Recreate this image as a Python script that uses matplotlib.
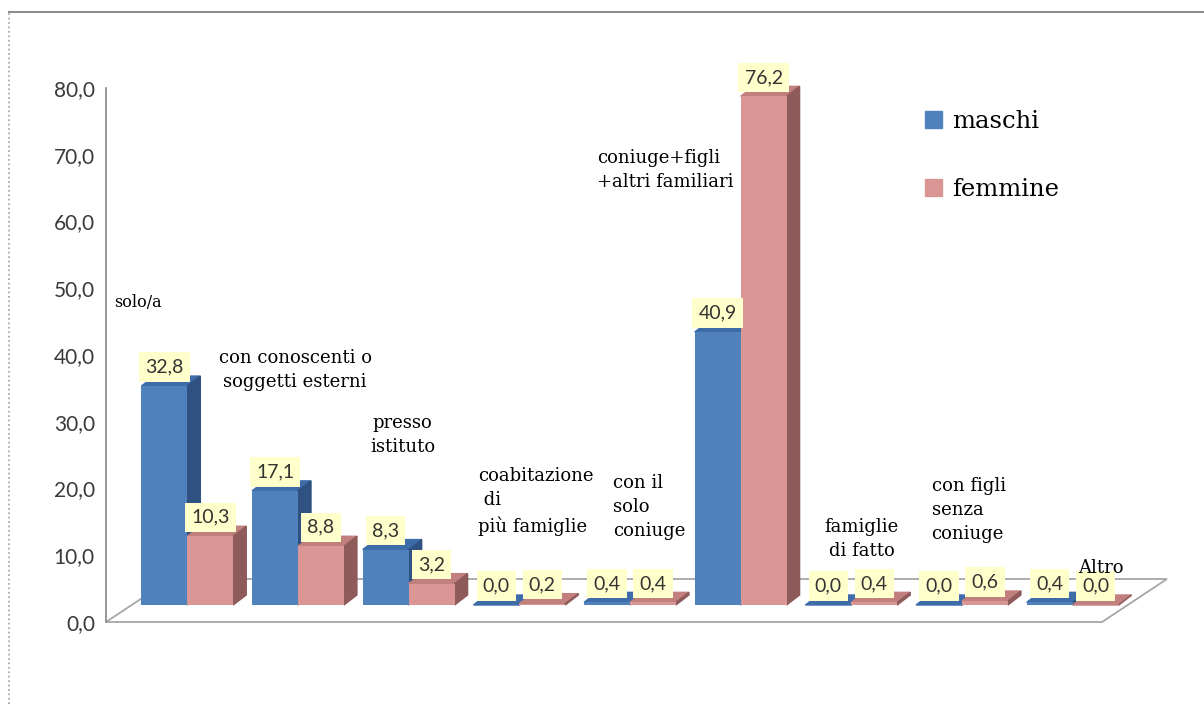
import numpy as np
import matplotlib
matplotlib.use("Agg")
from matplotlib import pyplot as plt
from matplotlib.patches import Patch
from matplotlib.lines import Line2D

# dati
categorie = ["solo/a", "con conoscenti o\nsoggetti esterni", "presso\nistituto",
             "coabitazione\n di\npiù famiglie", "con il\nsolo\nconiuge",
             "coniuge+figli\n+altri familiari", "famiglie\ndi fatto",
             "con figli\nsenza\nconiuge", "Altro"]
maschi = [32.8, 17.1, 8.3, 0.0, 0.4, 40.9, 0.0, 0.0, 0.4]
femmine = [10.3, 8.8, 3.2, 0.2, 0.4, 76.2, 0.4, 0.6, 0.0]
serie = ["maschi", "femmine"]
tick_valori = np.arange(0, 81, 10)

# posizione delle etichette di categoria (x, y in unita' del grafico, allineamento)
pos_etichette = [(-0.43, 47.9, 'left'), (1.21, 37.8, 'center'), (2.18, 28.0, 'center'),
                 (2.86, 18.1, 'left'), (4.08, 17.2, 'left'), (3.94, 67.7, 'left'),
                 (6.33, 12.4, 'center'), (6.96, 16.8, 'left'), (8.28, 8.1, 'left')]

# colori: fronte, cima, fianco
col_maschi = ("#4F81BD", "#3D6CA8", "#2F5283")
col_femmine = ("#D99694", "#C17F7D", "#8E5B5A")

W, H = 1204, 704
fig = plt.figure(figsize=(W / 100, H / 100), dpi=100)
ax = fig.add_axes([106 / W, 82 / H, 996 / W, 534 / H])
ax.set_xlim(-0.5, 8.5)
ax.set_ylim(0, 80)

# conversione pixel -> unita' del grafico per l'effetto 3D
kx = 9 / 996
ky = 80 / 534
sx, sy = 26 * kx, 17 * ky      # barre a meta' profondita' del pavimento
dx, dy = 13 * kx, 10 * ky      # spessore delle barre
fx, fy = 65 * kx, 43 * ky      # profondita' del pavimento

# pavimento
ax.fill([-0.5, 8.5, 8.5 + fx, -0.5 + fx], [0, 0, fy, fy], facecolor="white",
        edgecolor="#A6A6A6", lw=1.3, clip_on=False, zorder=1)

x = np.arange(len(categorie))
w = 0.415
for k, (vals, cols) in enumerate([(maschi, col_maschi), (femmine, col_femmine)]):
    left = x - w + k * w
    ax.bar(left + sx, vals, width=w, bottom=sy, align="edge", color=cols[0],
           zorder=3 + 2 * k, clip_on=False)
    for xl, v in zip(left, vals):
        x0 = xl + sx
        top = sy + v
        ax.fill([x0, x0 + w, x0 + w + dx, x0 + dx], [top, top, top + dy, top + dy],
                color=cols[1], zorder=2 + 2 * k, clip_on=False)
        ax.fill([x0 + w, x0 + w + dx, x0 + w + dx, x0 + w], [sy, sy + dy, top + dy, top],
                color=cols[2], zorder=2 + 2 * k, clip_on=False)
        ax.annotate(f"{v:.1f}".replace(".", ","), xy=(x0 + w / 2, top), xytext=(0, 7.5),
                    textcoords="offset points", ha="center", va="bottom", fontsize=14,
                    family="Lato", color="#333333", zorder=10, annotation_clip=False,
                    bbox=dict(boxstyle="square,pad=0.32", fc="#FFFFCC", ec="none"))

# etichette di categoria
for lab, (tx, ty, ha) in zip(categorie, pos_etichette):
    ax.text(tx, ty, lab, ha=ha, va="center", multialignment=ha,
            fontsize=11.5 if lab == "solo/a" else 13, family="DejaVu Serif",
            linespacing=1.45, color="black", zorder=11)

# assi
ax.set_yticks(tick_valori)
ax.set_yticklabels([f"{t:.1f}".replace(".", ",") for t in tick_valori],
                   fontsize=15, family="Lato", color="#3A3A3A")
ax.tick_params(axis="y", length=0, pad=8)
ax.set_xticks([])
for s in ["top", "right", "bottom"]:
    ax.spines[s].set_visible(False)
ax.spines["left"].set_color("#868686")
ax.spines["left"].set_linewidth(1.2)
ax.patch.set_visible(False)

# legenda
handles = [Patch(color=col_maschi[0]), Patch(color=col_femmine[0])]
fig.legend(handles, serie, loc="upper left", bbox_to_anchor=(925 / W, 1 - 110 / H),
           frameon=False, prop={"family": "DejaVu Serif", "size": 17.5},
           handlelength=0.7, handleheight=0.7, handletextpad=0.4, labelspacing=1.85,
           borderpad=0, borderaxespad=0)

# cornice
fig.add_artist(Line2D([9 / W, 1], [1 - 12 / H, 1 - 12 / H], transform=fig.transFigure,
                      color="#8C8C8C", lw=1.5))
fig.add_artist(Line2D([9 / W, 9 / W], [0, 1 - 12 / H], transform=fig.transFigure,
                      color="#A0A0A0", lw=1.2, ls=":"))

fig.savefig("out.png", dpi=100)
